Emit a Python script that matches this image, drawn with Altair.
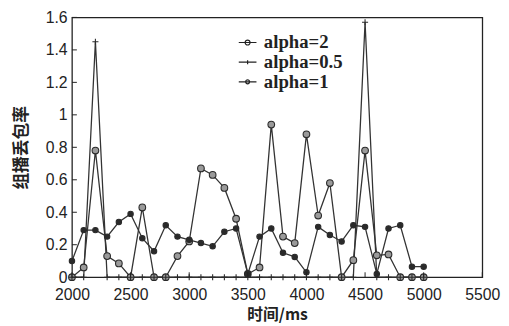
import altair as alt
import pandas as pd

times = list(range(2000, 5001, 100))
series_names = ["alpha=2", "alpha=0.5", "alpha=1"]
alpha2 = [0, 0.06, 0.78, 0.13, 0.085, 0, 0.43, 0, 0, 0.13, 0.22, 0.67, 0.63, 0.55, 0.36,
          0.02, 0.06, 0.94, 0.25, 0.21, 0.88, 0.38, 0.58, 0, 0.105, 0.78, 0.135, 0.14, 0, 0, 0]
alpha05 = [0, 0, 1.45, 0, 0, 0, 0, 0, 0, 0, 0, 0, 0, 0, 0,
           0, 0, 0, 0, 0, 0, 0, 0, 0, 0, 1.57, 0, 0, 0, 0, 0]
alpha1 = [0.10, 0.29, 0.29, 0.25, 0.34, 0.39, 0.24, 0.16, 0.32, 0.25, 0.23, 0.21, 0.19, 0.28, 0.30,
          0.02, 0.25, 0.30, 0.15, 0.125, 0.03, 0.31, 0.26, 0.22, 0.32, 0.31, 0.02, 0.30, 0.32, 0.065, 0.065]
x_ticks = [2000, 2500, 3000, 3500, 4000, 4500, 5000, 5500]
y_ticks = [0, 0.2, 0.4, 0.6, 0.8, 1.0, 1.2, 1.4, 1.6]

rows = []
for name, vals in zip(series_names, [alpha2, alpha05, alpha1]):
    for t, v in zip(times, vals):
        rows.append({"t": t, "v": v, "series": name})
df = pd.DataFrame(rows)

circle = "M1,0A1,1,0,1,1,-1,0A1,1,0,1,1,1,0Z"
plus = "M-1,0L1,0M0,-1L0,1"
leg_circle = "M-3.6,0L3.6,0M1,0A1,1,0,1,1,-1,0A1,1,0,1,1,1,0Z"
leg_plus = "M-3.6,0L3.6,0M0,-0.8L0,0.8"
leg_dot = "M-3.6,0L3.6,0M0.8,0A0.8,0.8,0,1,1,-0.8,0A0.8,0.8,0,1,1,0.8,0Z"

xs = alt.Scale(domain=[2000, 5500], nice=False, zero=False)
ys = alt.Scale(domain=[0, 1.6], nice=False)

x_axis = alt.Axis(values=x_ticks, title="时间/ms", format="d",
                  ticks=False, domain=False, grid=False,
                  labelFlush=False, labelOverlap=False,
                  labelPadding=10, titleY=38, titleBaseline="middle", titleFontSize=16)
y_axis = alt.Axis(values=y_ticks, title="组播丢包率", format=".1~f",
                  ticks=False, domain=False, grid=False,
                  labelFlush=False, labelOverlap=False,
                  labelPadding=5, titleX=-51, titleY=132,
                  titleAngle=-90, titleAlign="center", titleBaseline="middle")

X = alt.X("t:Q", scale=xs, axis=x_axis)
Y = alt.Y("v:Q", scale=ys, axis=y_axis)

lines = alt.Chart(df).mark_line(color="#333", strokeWidth=1.3).encode(
    x=X, y=Y, detail="series:N")

points = alt.Chart(df).mark_point(stroke="#2a2a2a", strokeWidth=1.1, opacity=1).encode(
    x=X, y=Y,
    shape=alt.Shape("series:N", scale=alt.Scale(domain=series_names, range=[circle, plus, circle]), legend=None),
    fill=alt.Fill("series:N", scale=alt.Scale(domain=series_names, range=["#9a9a9a", "#2a2a2a", "#2a2a2a"]), legend=None),
    size=alt.Size("series:N", scale=alt.Scale(domain=series_names, range=[46, 30, 26]), legend=None),
)

legend_layer = alt.Chart(df).mark_point(stroke="#222", strokeWidth=1.2, opacity=0).transform_calculate(
    leg="datum.series").encode(
    x=X, y=Y,
    shape=alt.Shape("leg:N", scale=alt.Scale(domain=series_names, range=[leg_circle, leg_plus, leg_dot]),
                    legend=alt.Legend(title=None, orient="none", legendX=160, legendY=16,
                                      symbolSize=25, symbolOpacity=1, symbolFillColor="#222",
                                      symbolStrokeColor="#222", symbolStrokeWidth=1.2,
                                      labelFont="Liberation Serif", labelFontWeight="bold",
                                      labelFontSize=19, labelColor="#222", labelOffset=7,
                                      rowPadding=0, symbolOffset=9)),
)

xt = alt.Chart(pd.DataFrame({"t": x_ticks})).mark_rule(color="#222", strokeWidth=1).encode(
    x=X, y=alt.value(264), y2=alt.value(259))
yt = alt.Chart(pd.DataFrame({"v": y_ticks})).mark_rule(color="#222", strokeWidth=1).encode(
    y=Y, x=alt.value(0), x2=alt.value(5))

chart = alt.layer(lines, points, legend_layer, xt, yt).resolve_scale(
    shape="independent"
).properties(
    width=417, height=264,
    autosize=alt.AutoSizeParams(type="none"),
    padding={"left": 65, "top": 7, "right": 19, "bottom": 46},
    background="white",
).configure_view(stroke="#222", strokeWidth=1.3).configure_axis(
    labelFont="Liberation Sans", labelFontSize=16, labelColor="#222",
    titleFont="Noto Sans CJK SC", titleFontSize=17, titleFontWeight="bold", titleColor="#222",
)

chart.save("out.html", embed_options={"renderer": "svg", "actions": False})
